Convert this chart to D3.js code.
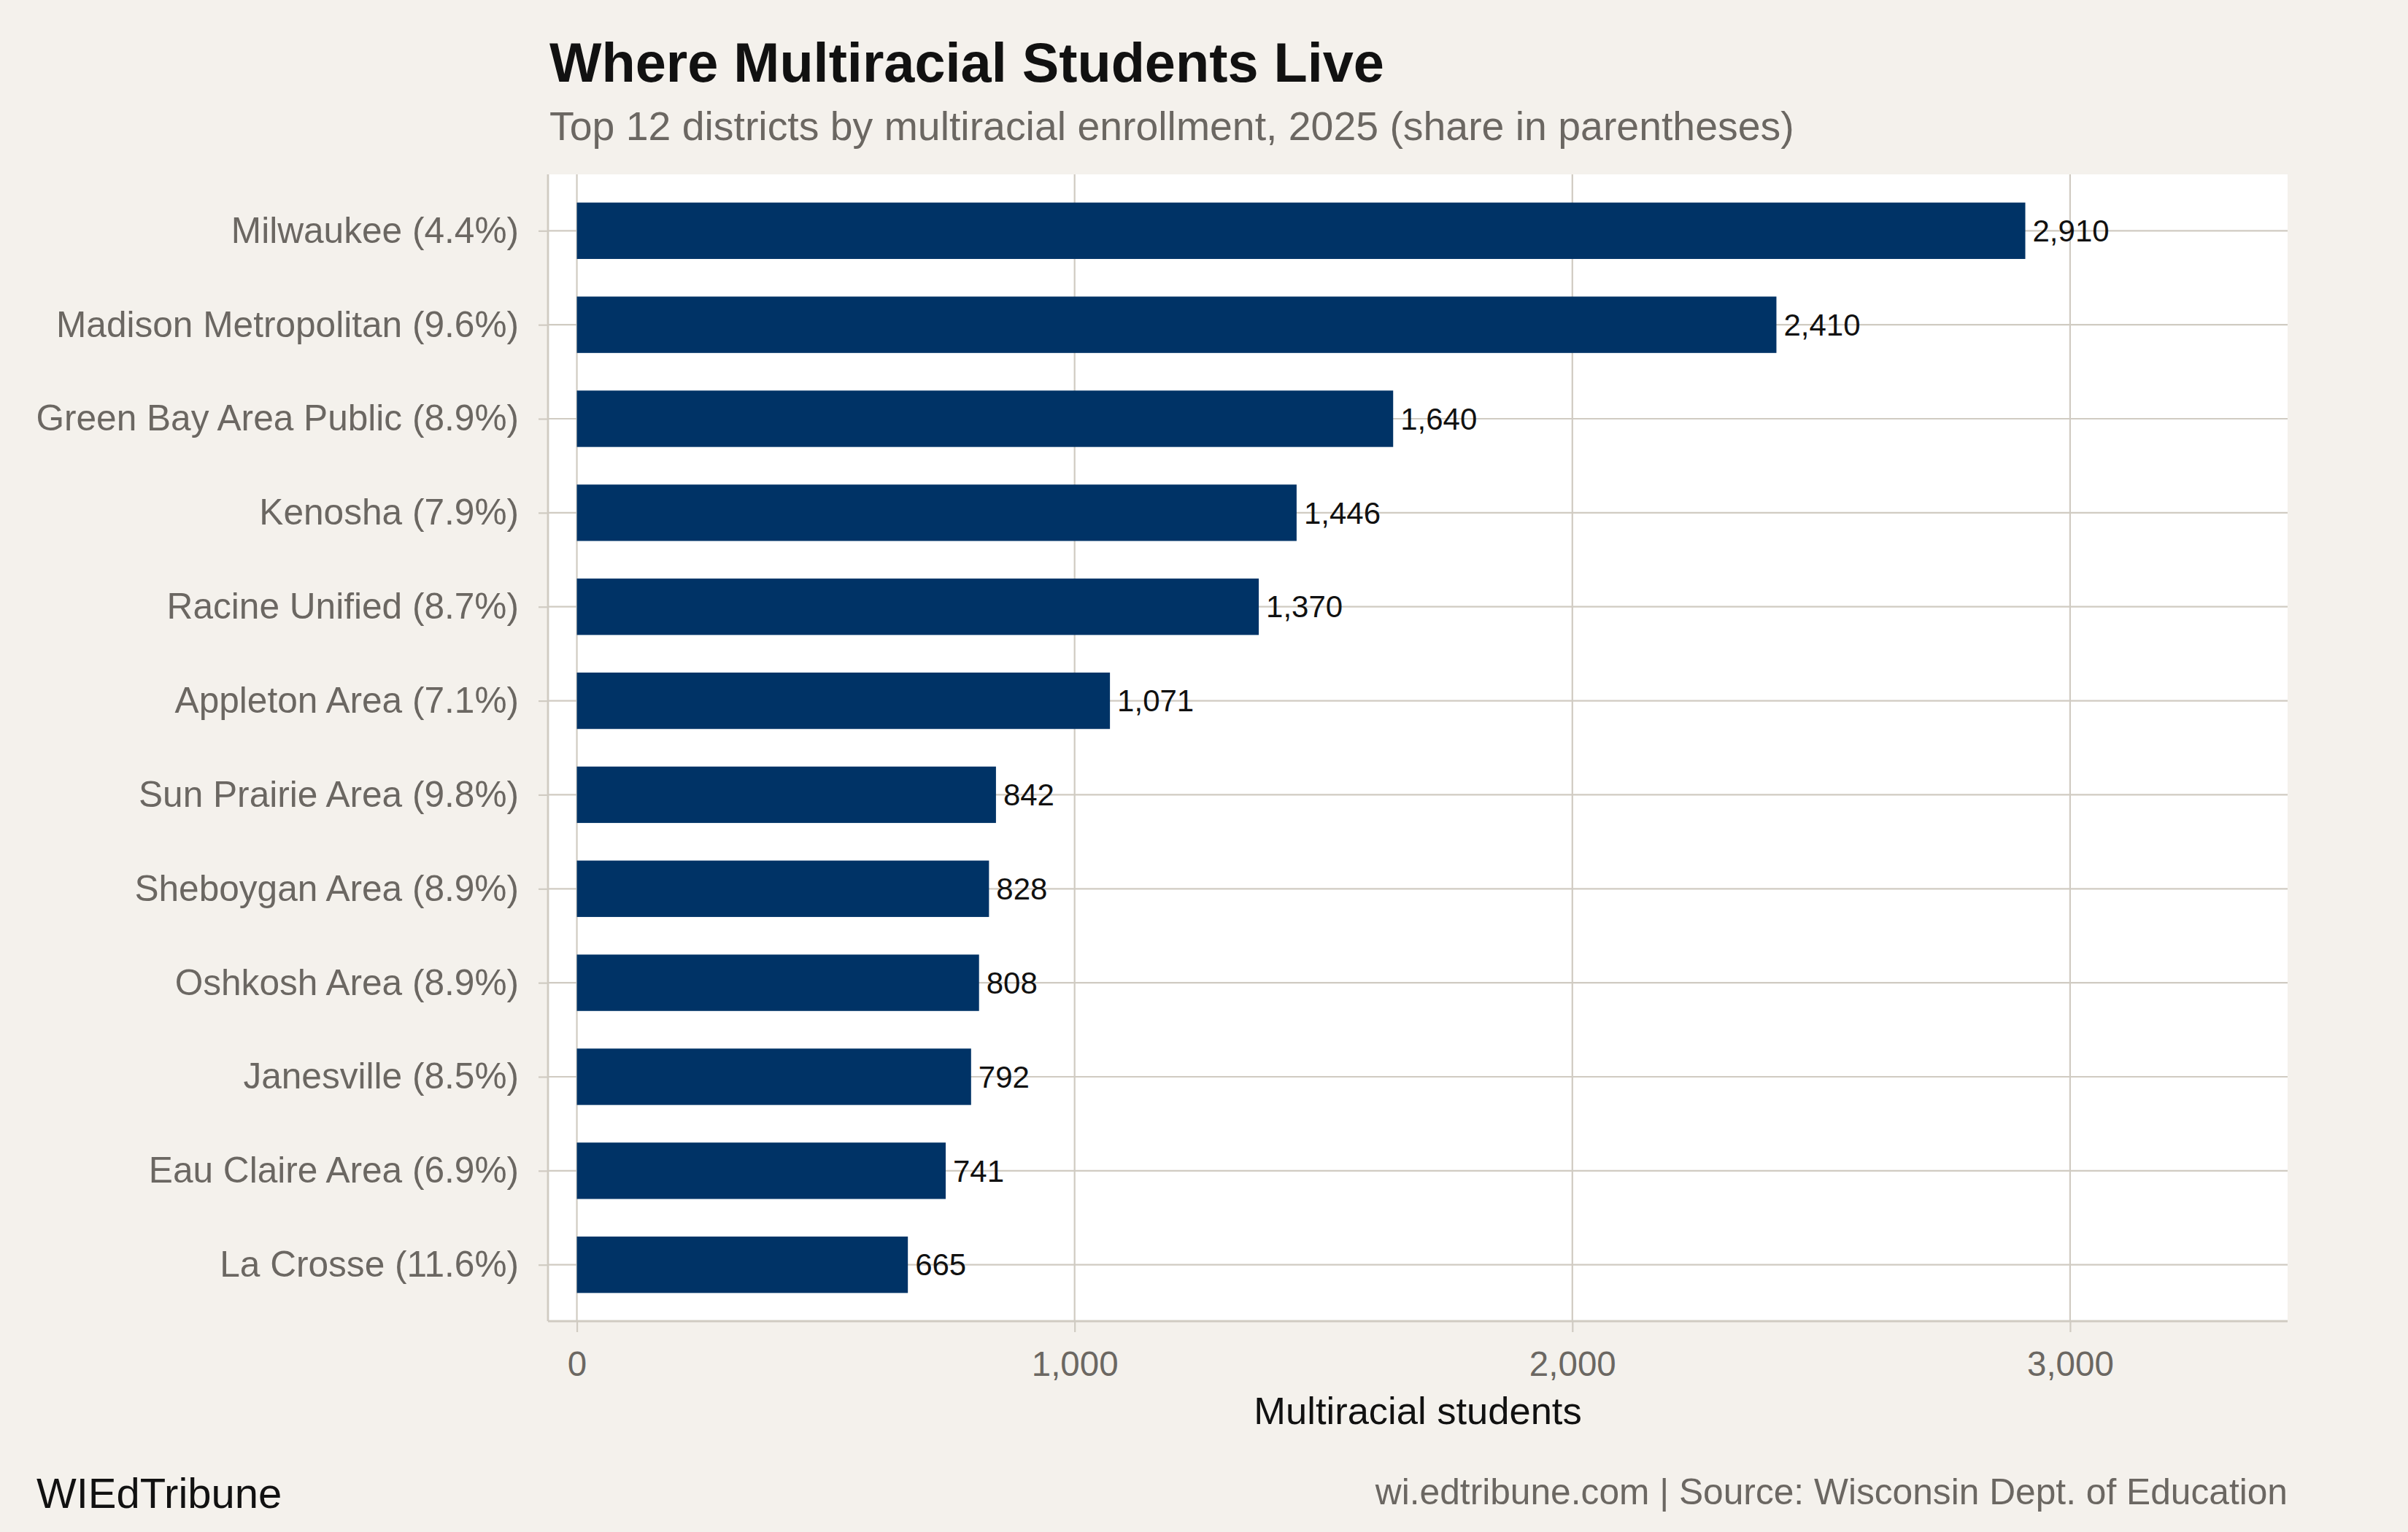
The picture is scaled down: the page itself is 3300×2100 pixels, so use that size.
<!DOCTYPE html>
<html>
<head>
<meta charset="utf-8">
<script src="https://cdn.jsdelivr.net/npm/d3@7"></script>
<style>
  html, body { margin: 0; padding: 0; background: #f4f1ec; }
  svg { display: block; font-family: "Liberation Sans", Arial, Helvetica, sans-serif; }
</style>
</head>
<body>
<div id="chart"></div>
<script>
// Data, top to bottom as in the chart
const districts = [
    "Milwaukee", "Madison Metropolitan", "Green Bay Area Public", "Kenosha",
    "Racine Unified", "Appleton Area", "Sun Prairie Area", "Sheboygan Area",
    "Oshkosh Area", "Janesville", "Eau Claire Area", "La Crosse"
];
const shares = ["4.4%", "9.6%", "8.9%", "7.9%", "8.7%", "7.1%", "9.8%", "8.9%", "8.9%", "8.5%", "6.9%", "11.6%"];
const students = [2910, 2410, 1640, 1446, 1370, 1071, 842, 828, 808, 792, 741, 665];
const xTicks = [0, 1000, 2000, 3000];
const xDomain = [-58, 3437];

const width = 3300, height = 2100;
const margin = { top: 239, right: 165, bottom: 289, left: 751 };
const innerW = width - margin.left - margin.right;
const innerH = height - margin.top - margin.bottom;

const gridColor = "#d0cbc2";
const textGray = "#6b6762";

const labels = districts.map((d, i) => `${d} (${shares[i]})`);
const rows = labels.map((l, i) => ({ label: l, value: students[i] }));

const svg = d3.select("#chart").append("svg")
    .attr("width", width)
    .attr("height", height);

svg.append("rect")
    .attr("width", width)
    .attr("height", height)
    .attr("fill", "#f4f1ec");

const g = svg.append("g")
    .attr("transform", `translate(${margin.left},${margin.top})`);

// Scales
const x = d3.scaleLinear().domain(xDomain).range([0, innerW]);
const y = d3.scalePoint().domain(labels).range([0, innerH]).padding(0.6);
const barH = y.step() * 0.6;

// Panel background
g.append("rect")
    .attr("width", innerW)
    .attr("height", innerH)
    .attr("fill", "#ffffff");

// Gridlines
g.selectAll(".vgrid")
    .data(xTicks)
    .enter().append("line")
    .attr("x1", d => x(d)).attr("x2", d => x(d))
    .attr("y1", 0).attr("y2", innerH)
    .attr("stroke", gridColor)
    .attr("stroke-width", 2.2);

g.selectAll(".hgrid")
    .data(labels)
    .enter().append("line")
    .attr("x1", 0).attr("x2", innerW)
    .attr("y1", d => y(d)).attr("y2", d => y(d))
    .attr("stroke", gridColor)
    .attr("stroke-width", 2.2);

// Bars
g.selectAll(".bar")
    .data(rows)
    .enter().append("rect")
    .attr("x", x(0))
    .attr("y", d => y(d.label) - barH / 2)
    .attr("width", d => x(d.value) - x(0))
    .attr("height", barH)
    .attr("fill", "#003366");

// Value labels
g.selectAll(".val")
    .data(rows)
    .enter().append("text")
    .attr("x", d => x(d.value) + 10)
    .attr("y", d => y(d.label))
    .attr("dy", "0.35em")
    .attr("font-size", 42)
    .attr("fill", "#111")
    .text(d => d3.format(",")(d.value));

// Y axis
const yAxis = g.append("g")
    .call(d3.axisLeft(y).tickSize(13).tickPadding(27));
yAxis.select(".domain")
    .attr("stroke", gridColor)
    .attr("stroke-width", 2.8)
    .attr("d", `M0,0V${innerH}`);
yAxis.selectAll(".tick line").attr("stroke", gridColor).attr("stroke-width", 2.2);
yAxis.selectAll(".tick text")
    .attr("font-size", 49.6)
    .attr("fill", textGray)
    .attr("font-family", "Liberation Sans, Arial, sans-serif");

// X axis
const xAxis = g.append("g")
    .attr("transform", `translate(0,${innerH})`)
    .call(d3.axisBottom(x).tickValues(xTicks).tickFormat(d3.format(",")).tickSize(15).tickPadding(26));
xAxis.select(".domain")
    .attr("stroke", gridColor)
    .attr("stroke-width", 2.8)
    .attr("d", `M0,0H${innerW}`);
xAxis.selectAll(".tick line").attr("stroke", gridColor).attr("stroke-width", 2.2);
xAxis.selectAll(".tick text")
    .attr("font-size", 47.5)
    .attr("fill", textGray)
    .attr("font-family", "Liberation Sans, Arial, sans-serif");

// Axis title
g.append("text")
    .attr("x", innerW / 2)
    .attr("y", innerH + 141)
    .attr("text-anchor", "middle")
    .attr("font-size", 52.5)
    .attr("fill", "#111")
    .text("Multiracial students");

// Title and subtitle
svg.append("text")
    .attr("x", margin.left + 2)
    .attr("y", 112)
    .attr("font-size", 75.7)
    .attr("font-weight", "bold")
    .attr("fill", "#111")
    .text("Where Multiracial Students Live");

svg.append("text")
    .attr("x", margin.left + 2)
    .attr("y", 192)
    .attr("font-size", 55.4)
    .attr("fill", textGray)
    .text("Top 12 districts by multiracial enrollment, 2025 (share in parentheses)");

// Captions
svg.append("text")
    .attr("x", 50)
    .attr("y", 2067)
    .attr("font-size", 58)
    .attr("fill", "#111")
    .text("WIEdTribune");

svg.append("text")
    .attr("x", margin.left + innerW)
    .attr("y", 2062)
    .attr("text-anchor", "end")
    .attr("font-size", 49.7)
    .attr("fill", textGray)
    .text("wi.edtribune.com | Source: Wisconsin Dept. of Education");
</script>
</body>
</html>
